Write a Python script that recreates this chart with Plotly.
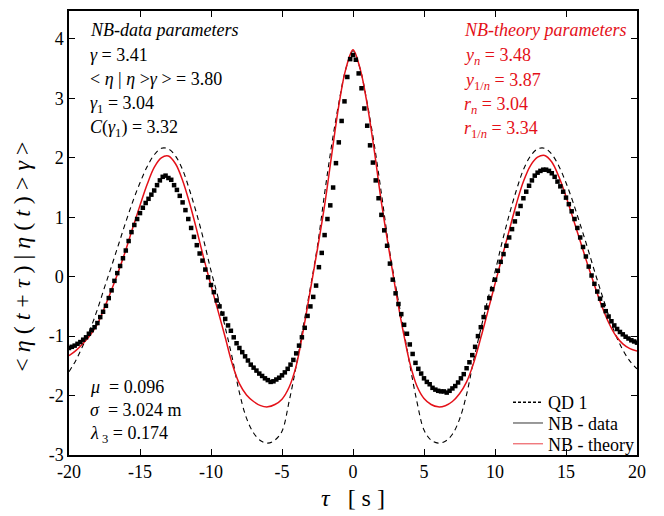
import numpy as np
import plotly.graph_objects as go

# ---------------- data ----------------
nb_data = [
    -1.20, -1.18, -1.16, -1.13, -1.10, -1.06, -1.02, -0.96, -0.90, -0.85,
    -0.78, -0.68, -0.59, -0.49, -0.36, -0.23, -0.07, 0.06, 0.18, 0.31,
    0.44, 0.60, 0.75, 0.87, 0.97, 1.07, 1.16, 1.24, 1.31, 1.38,
    1.45, 1.54, 1.62, 1.68, 1.70, 1.66, 1.63, 1.54, 1.46, 1.36,
    1.25, 1.12, 0.97, 0.82, 0.67, 0.53, 0.39, 0.27, 0.12, -0.01,
    -0.14, -0.26, -0.40, -0.50, -0.62, -0.71, -0.82, -0.91, -1.02, -1.12,
    -1.20, -1.27, -1.34, -1.41, -1.48, -1.53, -1.58, -1.63, -1.67, -1.71,
    -1.74, -1.77, -1.76, -1.73, -1.70, -1.66, -1.61, -1.55, -1.48, -1.40,
    -1.29, -1.16, -1.02, -0.86, -0.66, -0.50, -0.34, -0.15, 0.16, 0.40,
    0.70, 0.97, 1.20, 1.50, 1.91, 2.26, 2.62, 2.95, 3.36, 3.66,
    3.73,
    3.65, 3.42, 3.17, 2.83, 2.54, 2.21, 1.92, 1.62, 1.32, 1.04,
    0.78, 0.52, 0.22, -0.05, -0.28, -0.46, -0.63, -0.81, -0.96, -1.14,
    -1.30, -1.45, -1.55, -1.63, -1.71, -1.77, -1.81, -1.87, -1.90, -1.92,
    -1.93, -1.93, -1.95, -1.92, -1.88, -1.84, -1.78, -1.71, -1.64, -1.54,
    -1.44, -1.32, -1.18, -1.00, -0.85, -0.68, -0.52, -0.36, -0.21, -0.05,
    0.10, 0.25, 0.38, 0.52, 0.66, 0.80, 0.93, 1.06, 1.19, 1.32,
    1.43, 1.53, 1.62, 1.70, 1.75, 1.78, 1.80, 1.80, 1.78, 1.74,
    1.68, 1.60, 1.52, 1.43, 1.33, 1.22, 1.10, 0.97, 0.82, 0.66,
    0.50, 0.34, 0.17, 0.02, -0.12, -0.25, -0.37, -0.48, -0.58, -0.67,
    -0.75, -0.82, -0.88, -0.93, -0.97, -1.01, -1.04, -1.07, -1.09, -1.11,
]

nb_theory = [
    -1.33, -1.24, -1.12, -0.98, -0.80, -0.52, -0.22, 0.10, 0.45, 0.83,
    1.20, 1.55, 1.84, 2.00, 2.03, 1.90, 1.62, 1.23, 0.78, 0.30,
    -0.15, -0.58, -1.02, -1.47, -1.80, -1.99, -2.10, -2.17, -2.19, -2.15,
    -2.06, -1.86, -1.50, -0.90, -0.22, 0.47, 1.20, 2.05, 2.88, 3.50,
    3.82,
    3.50, 2.90, 2.12, 1.25, 0.50, -0.22, -0.88, -1.45, -1.84, -2.05,
    -2.15, -2.19, -2.17, -2.10, -1.97, -1.77, -1.45, -1.03, -0.58, -0.12,
    0.33, 0.78, 1.22, 1.60, 1.87, 2.01, 2.04, 1.93, 1.68, 1.35,
    0.98, 0.60, 0.22, -0.14, -0.48, -0.77, -0.99, -1.13, -1.21, -1.25,
]

qd1 = [
    -1.60, -1.40, -1.15, -0.88, -0.55, -0.18, 0.18, 0.55, 0.92, 1.27,
    1.58, 1.85, 2.05, 2.16, 2.15, 2.03, 1.80, 1.45, 1.05, 0.60,
    0.10, -0.35, -0.85, -1.37, -1.95, -2.38, -2.63, -2.76, -2.80, -2.75,
    -2.60, -2.10, -1.50, -0.83, -0.18, 0.52, 1.40, 2.22, 2.92, 3.50,
    3.80,
    3.50, 2.92, 2.22, 1.40, 0.55, -0.15, -0.80, -1.48, -2.10, -2.58,
    -2.75, -2.80, -2.77, -2.65, -2.40, -1.98, -1.40, -0.88, -0.38, 0.08,
    0.58, 1.04, 1.45, 1.80, 2.03, 2.15, 2.16, 2.06, 1.86, 1.58,
    1.25, 0.88, 0.50, 0.10, -0.28, -0.65, -0.98, -1.23, -1.42, -1.55,
]

tau_data = np.linspace(-20, 20, len(nb_data))
tau_curve = np.linspace(-20, 20, len(nb_theory))

x_ticks = [-20, -15, -10, -5, 0, 5, 10, 15, 20]
y_ticks = [-3, -2, -1, 0, 1, 2, 3, 4]

legend_names = ["QD 1", "NB - data", "NB - theory"]

RED = "rgb(228,16,24)"
FONT = "Liberation Serif"

L, R, T, B = 69, 27, 9, 59
W, H = 664, 516
pw, ph = W - L - R, H - T - B

def px(x):
    return (x - L) / pw

def py(y):
    return (H - B - y) / ph

fig = go.Figure()

fig.add_trace(go.Scatter(x=tau_curve, y=qd1, mode="lines", line=dict(color="black", width=1.1, dash="5px,4px"),
                         line_shape="spline", showlegend=False, hoverinfo="skip"))
fig.add_trace(go.Scatter(x=tau_curve, y=nb_theory, mode="lines", line=dict(color=RED, width=1.5),
                         line_shape="spline", showlegend=False, hoverinfo="skip"))
fig.add_trace(go.Scatter(x=tau_data, y=nb_data, mode="markers",
                         marker=dict(symbol="square", size=4.5, color="black", line=dict(width=0)),
                         showlegend=False, hoverinfo="skip"))

# legend entries (each in its own legend box so the rows can be spaced like the reference)
leg_styles = [
    dict(color="black", width=1.5, dash="3px,2px"),
    dict(color="black", width=0.8),
    dict(color=RED, width=0.8),
]
leg_ids = ["legend", "legend2", "legend3"]
leg_rows = [404, 425, 446]
for name, st, lid in zip(legend_names, leg_styles, leg_ids):
    fig.add_trace(go.Scatter(x=[None], y=[None], mode="lines", name=name, line=st, legend=lid))

axis_common = dict(showline=True, linecolor="black", linewidth=1.5, mirror="allticks",
                   ticks="inside", ticklen=6, tickwidth=1, tickcolor="black",
                   showgrid=False, zeroline=False,
                   tickfont=dict(family=FONT, size=18, color="black"))

fig.update_xaxes(range=[-20, 20], tickvals=x_ticks, ticktext=[str(v) for v in x_ticks],
                 title=dict(text="<i>τ</i>   [ s ]", font=dict(family=FONT, size=24, color="black"), standoff=8),
                 **axis_common)
fig.update_yaxes(range=[-3, 4.47], tickvals=y_ticks, ticktext=[str(v) for v in y_ticks],
                 **axis_common)

# y-axis title (placed as rotated text so it sits where the reference has it)
fig.add_annotation(text="&lt; <i>η</i> ( <i>t</i> + <i>τ</i> ) | <i>η</i> ( <i>t</i> ) &gt; <i>γ</i> &gt;",
                   xref="paper", yref="paper", x=px(22), y=py(257), textangle=-90,
                   xanchor="center", yanchor="middle", showarrow=False,
                   font=dict(family=FONT, size=24, color="black"))

annots = [
    ("<i>NB-data parameters</i>", 88, 28, "black"),
    ("<i>γ</i> = 3.41", 88, 53, "black"),
    ("&lt; <i>η</i> | <i>η</i> &gt;<i>γ</i> &gt; = 3.80", 88, 78, "black"),
    ("<i>γ</i><sub>1</sub> = 3.04", 88, 103, "black"),
    ("<i>C</i>(<i>γ</i><sub>1</sub>) = 3.32", 88, 128, "black"),
    ("<i>NB-theory parameters</i>", 462, 28, RED),
    ("<i>y</i><sub><i>n</i></sub> = 3.48", 462, 55, RED),
    ("<i>y</i><sub>1/<i>n</i></sub> = 3.87", 462, 80, RED),
    ("<i>r</i><sub><i>n</i></sub> = 3.04", 462, 104, RED),
    ("<i>r</i><sub>1/<i>n</i></sub> = 3.34", 462, 129, RED),
    ("<i>μ</i>  = 0.096", 88, 388, "black"),
    ("<i>σ</i>  = 3.024 m", 88, 412, "black"),
    ("<i>λ</i><sub> 3</sub> = 0.174", 88, 436, "black"),
]
for text, x, y, col in annots:
    fig.add_annotation(text=text, xref="paper", yref="paper", x=px(x), y=py(y),
                       xanchor="left", yanchor="middle", showarrow=False,
                       font=dict(family=FONT, size=18, color=col))

layout_legends = {}
for lid, row in zip(leg_ids, leg_rows):
    layout_legends[lid] = dict(x=px(508), y=py(row), xanchor="left", yanchor="middle",
                               bgcolor="rgba(0,0,0,0)", borderwidth=0,
                               font=dict(family=FONT, size=18, color="black"),
                               itemwidth=30)

fig.update_layout(
    width=W, height=H,
    margin=dict(l=L, r=R, t=T, b=B),
    paper_bgcolor="white", plot_bgcolor="white",
    showlegend=True,
    **layout_legends,
)

fig.write_html("out.html")
